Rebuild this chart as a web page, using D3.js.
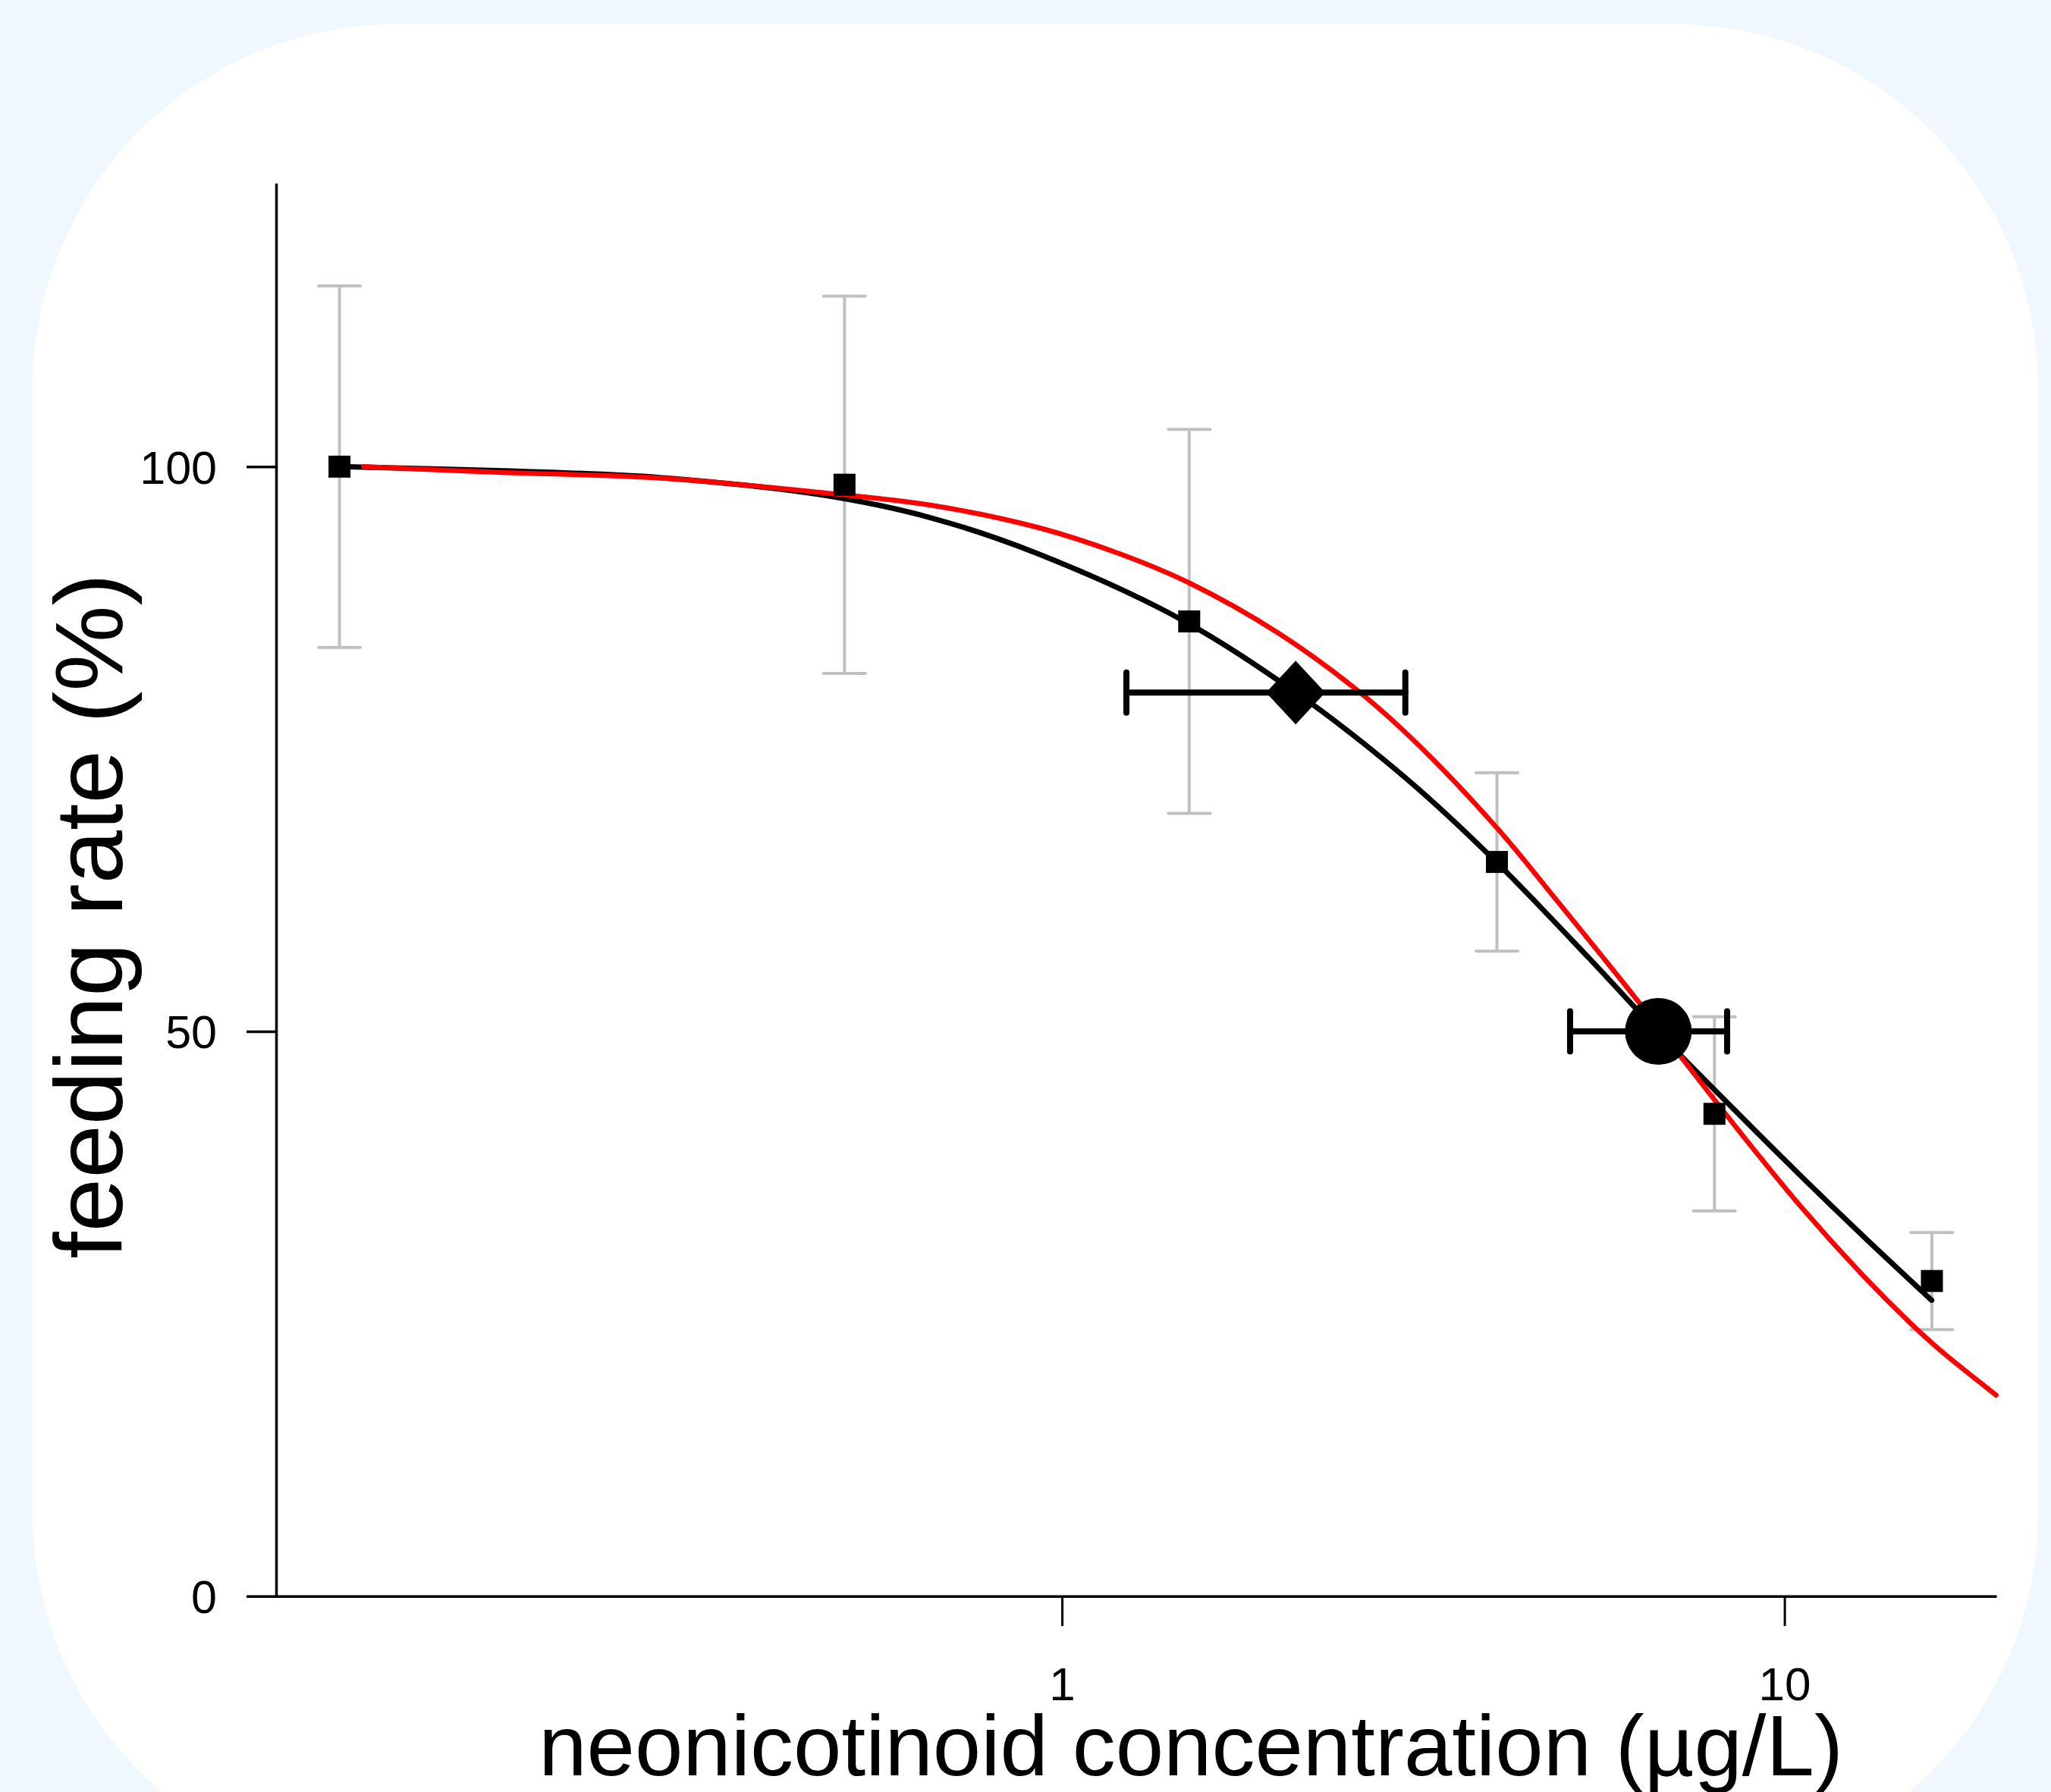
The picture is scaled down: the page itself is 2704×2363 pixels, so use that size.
<!DOCTYPE html>
<html>
<head>
<meta charset="utf-8">
<script src="https://cdn.jsdelivr.net/npm/d3@7"></script>
<style>
  html, body { margin: 0; padding: 0; background: #f0f8ff; }
  svg { display: block; }
  text { font-family: "Liberation Sans", Arial, Helvetica, sans-serif; fill: #000; }
</style>
</head>
<body>
<svg width="2704" height="2363"></svg>
<script>
// measured means and standard errors
const concentrations = [0.1, 0.5, 1.5, 4, 8, 16];
const feedingMean = [100, 98.4, 86.3, 65.0, 42.7, 27.9];
const feedingSE = [16, 16.7, 17, 7.9, 8.6, 4.3];

// effect concentrations with confidence limits
const ecNames = ["EC20", "EC50"];
const ecEffect = [80, 50];
const ecValue = [2.106, 6.69];
const ecLow = [1.228, 5.05];
const ecHigh = [2.987, 8.33];

// fitted curves
const blackFitX = [0.1, 0.165, 0.277, 0.465, 0.657, 0.928, 1.472, 2.101, 2.523, 3.133, 4.01, 5.38, 6.69, 8.6, 10.5, 12.84, 15.99];
const blackFitY = [100, 99.65, 99.04, 97.5, 95.49, 92.27, 86.37, 80.06, 76.29, 71.31, 64.87, 56.4, 49.91, 42.82, 37.3, 31.9, 26.19];
const redFitX = [0.108, 0.165, 0.277, 0.465, 0.657, 0.928, 1.2, 1.501, 2.0, 2.609, 3.133, 4.014, 4.825, 6.247, 7.18, 8.6, 10.5, 12.84, 14.87, 16.34, 19.63];
const redFitY = [100, 99.5, 99.0, 97.7, 96.6, 94.6, 92.3, 89.7, 85.2, 79.8, 75.2, 67.9, 61.7, 52.8, 47.8, 41.4, 34.6, 28.4, 24.3, 21.9, 17.8];

const xTicks = [1, 10];
const yTicks = [0, 50, 100];
const xDomain = [0.0817, 19.65];
const yDomain = [0, 125];

const svg = d3.select("svg");
const width = +svg.attr("width");
const height = +svg.attr("height");

// page background + rounded card
svg.append("rect").attr("width", width).attr("height", height).attr("fill", "#f0f8ff");
svg.append("rect")
  .attr("x", 43).attr("y", 32)
  .attr("width", 2644).attr("height", 2444)
  .attr("rx", 480)
  .attr("fill", "#ffffff");

const margin = { top: 243, right: 72, bottom: 258.3, left: 364 };
const innerWidth = width - margin.left - margin.right;
const innerHeight = height - margin.top - margin.bottom;

const x = d3.scaleLog().domain(xDomain).range([0, innerWidth]);
const y = d3.scaleLinear().domain(yDomain).range([innerHeight, 0]);

const g = svg.append("g")
  .attr("transform", `translate(${margin.left}, ${margin.top})`);

const fontFamily = '"Liberation Sans", Arial, Helvetica, sans-serif';

// bottom axis
const xAxisG = g.append("g")
  .attr("transform", `translate(0, ${innerHeight})`)
  .call(d3.axisBottom(x)
    .tickValues(xTicks)
    .tickFormat(d3.format("d"))
    .tickSize(39.5)
    .tickSizeOuter(0)
    .tickPadding(54))
  .attr("font-size", 62)
  .attr("font-family", fontFamily);
xAxisG.select(".domain").attr("stroke-width", 3.5);
xAxisG.selectAll(".tick line").attr("stroke-width", 3);

// left axis
const yAxisG = g.append("g")
  .call(d3.axisLeft(y)
    .tickValues(yTicks)
    .tickSize(39)
    .tickSizeOuter(0)
    .tickPadding(39))
  .attr("font-size", 61)
  .attr("font-family", fontFamily);
yAxisG.select(".domain").attr("stroke-width", 3.5).attr("stroke-linecap", "round");
yAxisG.selectAll(".tick line").attr("stroke-width", 3.5);
yAxisG.selectAll(".tick text").attr("dy", "0.36em");

// axis titles
svg.append("text")
  .attr("x", 1570)
  .attr("y", 2341)
  .attr("text-anchor", "middle")
  .attr("font-size", 114)
  .text("neonicotinoid concentration (µg/L)");

svg.append("text")
  .attr("transform", "translate(161, 1208) rotate(-90)")
  .attr("text-anchor", "middle")
  .attr("font-size", 127)
  .text("feeding rate (%)");

// grey standard error bars
const points = concentrations.map((c, i) => ({ c, m: feedingMean[i], se: feedingSE[i] }));
const capHalf = 27.5;
const errG = g.append("g")
  .attr("stroke", "#c0c0c0")
  .attr("stroke-width", 4)
  .attr("stroke-linecap", "round");
errG.selectAll("line.v").data(points).join("line")
  .attr("x1", d => x(d.c)).attr("x2", d => x(d.c))
  .attr("y1", d => y(d.m - d.se)).attr("y2", d => y(d.m + d.se));
errG.selectAll("line.top").data(points).join("line").attr("class", "top")
  .attr("x1", d => x(d.c) - capHalf).attr("x2", d => x(d.c) + capHalf)
  .attr("y1", d => y(d.m + d.se)).attr("y2", d => y(d.m + d.se));
errG.selectAll("line.bot").data(points).join("line").attr("class", "bot")
  .attr("x1", d => x(d.c) - capHalf).attr("x2", d => x(d.c) + capHalf)
  .attr("y1", d => y(d.m - d.se)).attr("y2", d => y(d.m - d.se));

// fitted curves
const line = d3.line()
  .x(d => x(d[0]))
  .y(d => y(d[1]))
  .curve(d3.curveCatmullRom.alpha(0.5));

g.append("path")
  .datum(d3.zip(blackFitX, blackFitY))
  .attr("fill", "none")
  .attr("stroke", "#000")
  .attr("stroke-width", 7)
  .attr("stroke-linecap", "round")
  .attr("d", line);

g.append("path")
  .datum(d3.zip(redFitX, redFitY))
  .attr("fill", "none")
  .attr("stroke", "#ff0000")
  .attr("stroke-width", 6.5)
  .attr("stroke-linecap", "round")
  .attr("d", line);

// data squares
const sq = 29;
g.selectAll("rect.pt").data(points).join("rect")
  .attr("class", "pt")
  .attr("x", d => x(d.c) - sq / 2)
  .attr("y", d => y(d.m) - sq / 2)
  .attr("width", sq)
  .attr("height", sq)
  .attr("fill", "#000");

// EC20 / EC50 with confidence bars
const ecs = ecNames.map((n, i) => ({ n, e: ecEffect[i], v: ecValue[i], lo: ecLow[i], hi: ecHigh[i] }));
const ecG = g.append("g")
  .attr("stroke", "#000")
  .attr("stroke-width", 8)
  .attr("stroke-linecap", "round");
ecG.selectAll("line.h").data(ecs).join("line").attr("class", "h")
  .attr("x1", d => x(d.lo)).attr("x2", d => x(d.hi))
  .attr("y1", d => y(d.e)).attr("y2", d => y(d.e));
ecG.selectAll("line.l").data(ecs).join("line").attr("class", "l")
  .attr("x1", d => x(d.lo)).attr("x2", d => x(d.lo))
  .attr("y1", d => y(d.e) - 26.5).attr("y2", d => y(d.e) + 26.5);
ecG.selectAll("line.r").data(ecs).join("line").attr("class", "r")
  .attr("x1", d => x(d.hi)).attr("x2", d => x(d.hi))
  .attr("y1", d => y(d.e) - 26.5).attr("y2", d => y(d.e) + 26.5);

// EC20 diamond
const ec20 = ecs[0];
g.append("path")
  .attr("transform", `translate(${x(ec20.v)}, ${y(ec20.e)})`)
  .attr("d", "M0,-42L39,0L0,42L-39,0Z")
  .attr("fill", "#000");

// EC50 circle
const ec50 = ecs[1];
g.append("circle")
  .attr("cx", x(ec50.v))
  .attr("cy", y(ec50.e))
  .attr("r", 44)
  .attr("fill", "#000");
</script>
</body>
</html>
